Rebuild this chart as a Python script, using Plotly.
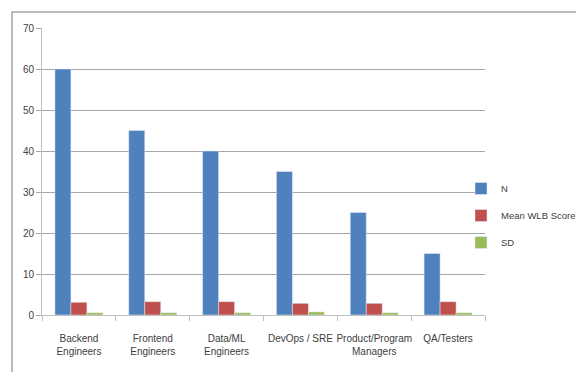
import plotly.graph_objects as go

categories = ["Backend<br>Engineers", "Frontend<br>Engineers", "Data/ML<br>Engineers",
              "DevOps / SRE", "Product/Program<br>Managers", "QA/Testers"]
n_values = [60, 45, 40, 35, 25, 15]
mean_wlb = [3.1, 3.25, 3.25, 2.85, 2.85, 3.25]
sd_values = [0.55, 0.55, 0.55, 0.75, 0.55, 0.55]

font_family = "Liberation Sans, Arial"

fig = go.Figure()
fig.add_trace(go.Bar(name="N", x=categories, y=n_values, marker_color="#4F81BD",
                     legendgroup="a"))
fig.add_trace(go.Bar(name="Mean WLB Score", x=categories, y=mean_wlb, marker_color="#C0504D",
                     legendgroup="b"))
fig.add_trace(go.Bar(name="SD", x=categories, y=sd_values, marker_color="#9BBB59",
                     legendgroup="c"))

W, H = 576, 372
L, T, R, B = 42, 28, 0, 57
pw, ph = W - L - R, H - T - B
plot_right = 485

fig.update_layout(
    width=W, height=H,
    margin=dict(l=L, r=R, t=T, b=B, autoexpand=False),
    paper_bgcolor="white", plot_bgcolor="white",
    barmode="group", bargap=0.35, bargroupgap=0,
    font=dict(family=font_family, size=10, color="#404040"),
    showlegend=True,
    legend=dict(x=(461 - L) / pw, y=(315 - 174) / ph, xanchor="left", yanchor="top",
                font=dict(size=9.5, family=font_family, color="#404040"),
                traceorder="grouped", tracegroupgap=8, itemwidth=30,
                bgcolor="rgba(0,0,0,0)"),
    xaxis=dict(domain=[0, (plot_right - L) / pw],
               showline=True, linecolor="#BFBFBF", linewidth=1,
               ticks="outside", tickson="boundaries", ticklen=5, tickcolor="#BFBFBF",
               tickangle=0, ticklabelstandoff=14,
               tickfont=dict(size=10, family=font_family, color="#404040"),
               fixedrange=True),
    yaxis=dict(range=[0, 70], dtick=10, showgrid=True, gridcolor="#A6A6A6", gridwidth=1,
               showline=True, linecolor="#BFBFBF", linewidth=1,
               ticks="outside", ticklen=5, tickcolor="#A6A6A6",
               tickfont=dict(size=10, family=font_family, color="#404040"),
               zeroline=False, fixedrange=True),
    shapes=[dict(type="rect", xref="paper", yref="paper",
                 x0=(12 - L) / pw, x1=(620 - L) / pw,
                 y0=-(400 - (H - B)) / ph, y1=1 + (T - 12) / ph,
                 line=dict(color="#A6A6A6", width=1.5), fillcolor="rgba(0,0,0,0)",
                 layer="below")],
)

fig.write_html("out.html")
